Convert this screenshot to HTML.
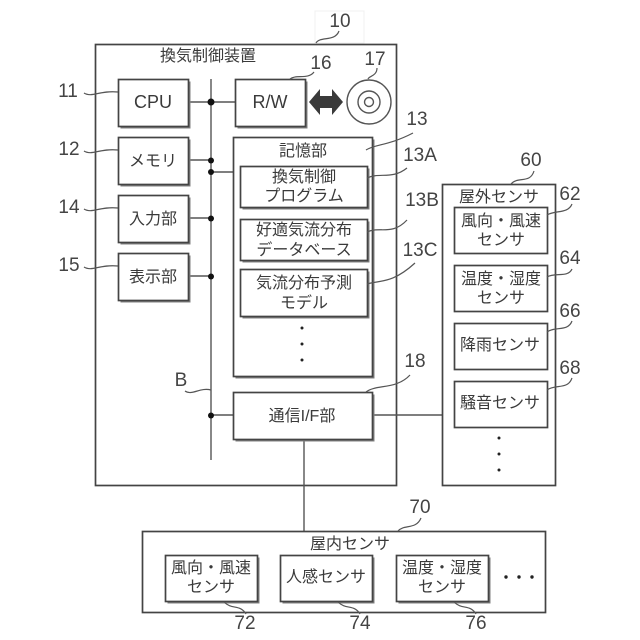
<!DOCTYPE html>
<html><head><meta charset="utf-8">
<style>
html,body{margin:0;padding:0;background:#fff;width:640px;height:640px;overflow:hidden}
svg{display:block;filter:blur(0.35px)}
text{font-family:"Liberation Sans","Noto Sans CJK JP",sans-serif;fill:#3a3a3a;text-anchor:middle}
.n{font-size:19px;fill:#444}
.t{font-size:16px}
.u{font-size:18px}
.b{fill:#fff;stroke:#444;stroke-width:1.7}
.s{fill:#808080}
.l{fill:none;stroke:#555;stroke-width:1.2}
.c{fill:none;stroke:#555;stroke-width:1.4}
</style></head><body>
<svg width="640" height="640" viewBox="0 0 640 640" xmlns="http://www.w3.org/2000/svg">
<rect x="315" y="11" width="49" height="32" fill="none" stroke="#f0f0f0"/>
<!-- outer -->
<rect class="b" x="95.500" y="44.500" width="301" height="441"/>
<text class="t" x="208" y="61">換気制御装置</text>
<!-- bus -->
<path class="c" d="M211 79V460"/>
<path class="c" d="M188 102H235M188 160H211M211 172H233M188 218H211M188 276H211M211 415H233M372 415H442M304 439V531"/>
<g fill="#111"><circle cx="211" cy="102" r="3.500"/><circle cx="211" cy="160.500" r="3"/><circle cx="211" cy="172" r="3"/><circle cx="211" cy="218.500" r="3"/><circle cx="211" cy="276.500" r="3"/><circle cx="211" cy="415.500" r="3"/></g>
<!-- shadows -->
<g class="s">
<rect x="120.500" y="81.500" width="70" height="47"/><rect x="237.500" y="81.500" width="70" height="47"/>
<rect x="120.500" y="139.500" width="70" height="47"/><rect x="120.500" y="197.500" width="70" height="47"/><rect x="120.500" y="255.500" width="70" height="47"/>
<rect x="235.500" y="139.500" width="139" height="239"/><rect x="235.500" y="394.500" width="139" height="47"/>
<rect x="456.500" y="209.500" width="93" height="46"/><rect x="456.500" y="267.500" width="93" height="46"/><rect x="456.500" y="325.500" width="93" height="46"/><rect x="456.500" y="383.500" width="93" height="46"/>
</g>
<!-- left boxes -->
<rect class="b" x="118.500" y="79.500" width="70" height="47"/><text class="u" x="153" y="108">CPU</text>
<rect class="b" x="118.500" y="137.500" width="70" height="47"/><text class="t" x="153" y="166">メモリ</text>
<rect class="b" x="118.500" y="195.500" width="70" height="47"/><text class="t" x="153" y="224">入力部</text>
<rect class="b" x="118.500" y="253.500" width="70" height="47"/><text class="t" x="153" y="282">表示部</text>
<rect class="b" x="235.500" y="79.500" width="70" height="47"/><text class="u" x="270" y="108">R/W</text>
<!-- arrow + disc -->
<polygon points="309,102 320,89 320,96 332,96 332,89 343,102 332,115 332,108 320,108 320,115" fill="#3a3a3a"/>
<circle class="c" cx="369" cy="102" r="22"/><circle class="c" cx="369" cy="102" r="11"/><circle class="c" cx="369" cy="102" r="4.500"/>
<!-- storage -->
<rect class="b" x="233.500" y="137.500" width="139" height="239"/>
<text class="t" x="303" y="156">記憶部</text>
<rect class="s" x="242.500" y="168.500" width="127" height="41"/><rect class="b" x="240.500" y="166.500" width="127" height="41"/>
<text class="t" x="304" y="182">換気制御</text><text class="t" x="304" y="201">プログラム</text>
<rect class="s" x="242.500" y="221.500" width="127" height="41"/><rect class="b" x="240.500" y="219.500" width="127" height="41"/>
<text class="t" x="304" y="235">好適気流分布</text><text class="t" x="304" y="255">データベース</text>
<rect class="s" x="242.500" y="271.500" width="127" height="47"/><rect class="b" x="240.500" y="269.500" width="127" height="47"/>
<text class="t" x="304" y="288">気流分布予測</text><text class="t" x="304" y="308">モデル</text>
<g fill="#222"><circle cx="302" cy="328" r="1.500"/><circle cx="302" cy="344" r="1.500"/><circle cx="302" cy="360" r="1.500"/></g>
<rect class="b" x="233.500" y="392.500" width="139" height="47"/><text class="t" x="302" y="421">通信I/F部</text>
<!-- outdoor -->
<rect class="b" x="442.500" y="184.500" width="113" height="301"/>
<text class="t" x="499" y="202">屋外センサ</text>
<rect class="b" x="454.500" y="207.500" width="93" height="46"/><text class="t" x="501" y="226">風向・風速</text><text class="t" x="501" y="245">センサ</text>
<rect class="b" x="454.500" y="265.500" width="93" height="46"/><text class="t" x="501" y="284">温度・湿度</text><text class="t" x="501" y="303">センサ</text>
<rect class="b" x="454.500" y="323.500" width="93" height="46"/><text class="t" x="500" y="350">降雨センサ</text>
<rect class="b" x="454.500" y="381.500" width="93" height="46"/><text class="t" x="500" y="408">騒音センサ</text>
<g fill="#222"><circle cx="499" cy="438" r="1.500"/><circle cx="499" cy="454" r="1.500"/><circle cx="499" cy="470" r="1.500"/></g>
<!-- indoor -->
<rect class="b" x="142.500" y="531.500" width="403" height="81"/>
<text class="t" x="350" y="549">屋内センサ</text>
<rect class="s" x="167.500" y="557.500" width="92" height="46"/><rect class="s" x="282.500" y="557.500" width="92" height="46"/><rect class="s" x="398.500" y="557.500" width="92" height="46"/>
<rect class="b" x="165.500" y="555.500" width="92" height="46"/><text class="t" x="211" y="573">風向・風速</text><text class="t" x="211" y="592">センサ</text>
<rect class="b" x="280.500" y="555.500" width="92" height="46"/><text class="t" x="326" y="582">人感センサ</text>
<rect class="b" x="396.500" y="555.500" width="92" height="46"/><text class="t" x="442" y="573">温度・湿度</text><text class="t" x="442" y="592">センサ</text>
<g fill="#222"><circle cx="506" cy="577" r="1.700"/><circle cx="519" cy="577" r="1.700"/><circle cx="532" cy="577" r="1.700"/></g>
<!-- leader lines -->
<path class="l" d="M84 93C92 98 100 90 118 92M84 151C92 156 100 148 118 150M84 209C92 214 100 206 118 208M84 267C92 272 100 264 118 266"/>
<path class="l" d="M316 43C320 36 335 42 339 31M290 79C296 74 308 80 314 72M368 79C369 76 377 76 377 68M366 150C375 144 388 146 413 133M367 178C380 172 392 180 407 168M367 232C380 226 392 236 407 220M367 284C380 280 392 284 415 263"/>
<path class="l" d="M366 392C376 384 396 390 410 375M511 184C518 176 530 184 534 171M547 215C555 210 568 214 572 204M547 277C555 272 568 278 572 269M547 332C555 326 568 332 572 321M547 390C555 384 568 390 572 378M398 531C404 524 416 530 421 518M224 602C232 610 240 604 246 614M338 602C346 610 354 604 360 614M454 602C462 610 470 604 476 614"/>
<path class="l" d="M185 391C192 396 200 387 211 390"/>
<!-- ref numbers -->
<text class="n" x="68" y="97">11</text><text class="n" x="69" y="155">12</text><text class="n" x="69" y="213">14</text><text class="n" x="69" y="271">15</text>
<text class="n" x="340" y="27">10</text><text class="n" x="321" y="69">16</text><text class="n" x="375" y="65">17</text>
<text class="n" x="417" y="125">13</text><text class="n" x="420" y="161">13A</text><text class="n" x="422" y="206">13B</text><text class="n" x="420" y="256">13C</text>
<text class="n" x="181" y="386">B</text><text class="n" x="415" y="367">18</text>
<text class="n" x="531" y="166">60</text><text class="n" x="570" y="200">62</text><text class="n" x="570" y="264">64</text><text class="n" x="570" y="317">66</text><text class="n" x="570" y="374">68</text>
<text class="n" x="420" y="513">70</text><text class="n" x="245" y="629">72</text><text class="n" x="360" y="629">74</text><text class="n" x="476" y="629">76</text>
</svg>
</body></html>
